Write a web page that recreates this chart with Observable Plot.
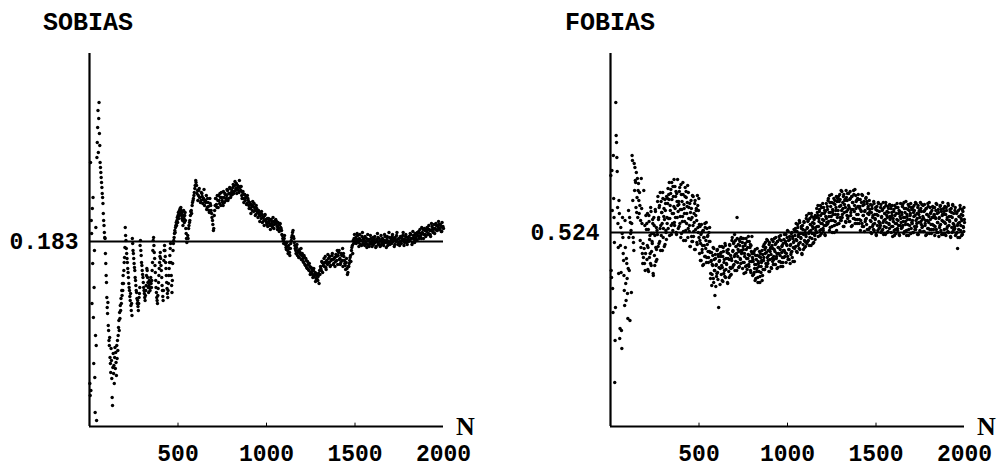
<!DOCTYPE html>
<html><head><meta charset="utf-8">
<script src="https://cdn.jsdelivr.net/npm/d3@7"></script>
<script src="https://cdn.jsdelivr.net/npm/@observablehq/plot@0.6"></script>
<style>
body{margin:0;background:#fff;}
#wrap{position:relative;width:997px;height:472px;overflow:hidden;background:#fff;}
.panel{position:absolute;top:0;}
.title{position:absolute;top:11px;font:bold 25px/25px "Liberation Mono",monospace;color:#000;white-space:nowrap;}
</style></head><body><div id="wrap"></div>
<script>
const titles = ["SOBIAS", "FOBIAS"];
const sobiasRef = 0.183, fobiasRef = 0.524;
const xTicks = [500, 1000, 1500, 2000];
const xDomain = [0, 2000];
const sobiasDomain = [-0.002, 0.371];
const fobiasDomain = [0.330, 0.703];

// SOBIAS, N = 2,4,...,550
const sobiasEarly = [
.041,.029,.262,.034,.204,.191,.121,.216,.161,.227,.107,.061,.137,.174,.047,.012,.089,.197,.079,.004,
.267,.282,.297,.314,.272,.306,.322,.291,.279,.262,.257,.252,.247,.242,.237,.231,.227,.221,.211,.204,.199,.192,.187,.186,.171,.161,.149,.142,.127,.117,
.111,.122,.099,.094,.084,.079,.087,.067,.061,.052,.076,.064,.046,.027,.019,.057,.071,.051,.059,.041,.067,.077,.056,.072,.062,.049,.079,.066,.084,.074,.089,.097,.104,.094,.112,.106,.119,.114,.126,.121,.134,.129,.141,.134,.149,.141,.154,.162,.167,.177,
.197,.189,.184,.176,.171,.166,.162,.156,.152,.147,.141,.137,.134,.128,.124,.131,.119,.114,.121,.109,
.186,.181,.174,.171,.166,.161,.157,.154,.147,.144,.139,.134,.132,.126,.121,.124,.118,.114,.121,.127,.131,.137,
.179,.184,.174,.169,.162,.159,.154,.150,.147,.142,.137,.134,.131,.127,.124,.129,.134,.139,
.149,.156,.154,.147,.142,.137,.132,.139,.144,.137,.134,.142,.147,.141,.137,.144,.154,.162,.174,.184,.187,.179,.172,.166,.159,.152,.144,.137,
.132,.127,.124,.121,.129,.136,.142,.149,.156,.162,.168,.172,.166,.159,.154,.147,.139,.134,.128,.124,.134,
.164,.174,.179,.174,.168,.162,.156,.149,.142,.136,.131,.127,.134,.141,.149,.156,.162,.169,.176,.181,.162,.149,.139,.132,.144,.161,
.174,.181,.184,.187,.191,.194,.192,.197,.199,.202,.199,.204,.207,.202,.209,.212,.206,.209,.214,.211,.216,.212,.217,.214,.209,
.206,.212,.204,.199,.209,.214,.206,.202,.209,.212,.204,.196,.191,.186,.182
];
// SOBIAS, N = 555,560,...,2000
const sobiasLate = [
.189,.196,.202,.209,.214,.219,.224,.229,.236,.244,
.239,.234,.229,.236,.227,.224,.231,.221,.226,.219,
.224,.229,.217,.222,.214,.226,.219,.211,.204,.194,
.209,.219,.226,.217,.224,.229,.221,.227,.232,.224,
.219,.227,.231,.224,.229,.234,.226,.231,.236,.229,
.234,.237,.231,.239,.234,.241,.236,.238,.232,.237,
.234,.229,.232,.226,.230,.224,.227,.221,.226,.219,
.222,.216,.220,.214,.218,.221,.214,.210,.216,.212,
.214,.209,.212,.206,.210,.207,.204,.209,.205,.202,
.206,.202,.204,.199,.205,.201,.197,.203,.200,.204,
.201,.198,.202,.196,.200,.197,.194,.189,.184,.186,
.181,.177,.182,.174,.179,.172,.176,.184,.189,.194,
.186,.179,.174,.177,.169,.174,.167,.172,.176,.169,
.166,.162,.167,.159,.164,.156,.160,.154,.158,.152,
.156,.150,.154,.148,.152,.146,.149,.144,.151,.154,
.158,.154,.162,.159,.166,.162,.157,.164,.160,.166,
.162,.158,.164,.169,.165,.161,.167,.163,.168,.174,
.169,.174,.166,.162,.169,.176,.171,.164,.159,.162,
.156,.152,.158,.164,.169,.174,.179,.184,.186,.182,
.187,.184,.189,.182,.186,.180,.184,.188,.181,.185,
.179,.183,.186,.180,.184,.178,.182,.186,.181,.184,
.180,.185,.182,.178,.183,.187,.181,.184,.179,.183,
.186,.181,.184,.188,.182,.185,.179,.183,.187,.182,
.184,.188,.183,.186,.180,.184,.189,.185,.181,.186,
.183,.187,.184,.189,.185,.182,.188,.184,.180,.186,
.188,.184,.190,.186,.182,.189,.185,.191,.187,.184,
.189,.193,.188,.191,.186,.192,.195,.190,.194,.188,
.193,.196,.191,.195,.190,.194,.198,.193,.196,.191,
.195,.199,.194,.197,.200,.195,.198,.193,.197,.196
];
// SOBIAS, N = 557,562,...,1997
const sobiasLateB = [
.186,.199,.204,.213,.211,.222,.226,.232,.239,.242,
.231,.224,.234,.227,.222,.232,.228,.225,.235,.223,
.222,.215,.226,.218,.212,.221,.214,.207,.200,.196,
.214,.226,.220,.229,.217,.224,.231,.219,.227,.222,
.233,.222,.230,.226,.235,.224,.231,.237,.227,.232,
.230,.240,.233,.243,.236,.231,.239,.234,.244,.238,
.238,.226,.233,.222,.230,.227,.220,.229,.224,.216,
.220,.211,.218,.223,.213,.217,.209,.219,.213,.207,
.211,.203,.209,.213,.202,.207,.199,.210,.204,.200,
.198,.206,.201,.195,.204,.199,.207,.196,.202,.205,
.203,.195,.199,.193,.201,.196,.190,.186,.181,.189,
.180,.175,.178,.171,.176,.169,.181,.187,.192,.188,
.182,.176,.171,.180,.172,.167,.175,.170,.165,.171,
.163,.169,.160,.166,.157,.163,.155,.161,.150,.157,
.153,.147,.156,.150,.143,.151,.145,.148,.141,.150,
.156,.163,.152,.161,.158,.168,.155,.161,.170,.162,
.168,.159,.165,.171,.160,.166,.158,.170,.164,.160,
.172,.165,.160,.171,.164,.158,.168,.161,.155,.166,
.150,.158,.161,.167,.163,.177,.171,.181,.190,.185,
.181,.191,.185,.178,.190,.184,.179,.192,.186,.180,
.188,.182,.177,.190,.185,.180,.189,.183,.178,.187,
.182,.188,.177,.185,.191,.180,.186,.178,.189,.181,
.185,.179,.190,.183,.177,.188,.182,.192,.180,.186,
.181,.190,.185,.178,.187,.183,.192,.180,.186,.179,
.188,.181,.186,.192,.179,.185,.190,.182,.187,.183,
.184,.191,.186,.180,.193,.187,.182,.190,.185,.192,
.192,.186,.195,.189,.197,.191,.186,.196,.190,.194,
.197,.190,.199,.194,.188,.201,.195,.192,.200,.196,
.201,.194,.199,.203,.196,.200,.193,.202,.198
];
// FOBIAS, N = 2,4,...,200
const fobiasEarly = [
.581,.486,.479,.586,.546,.468,.444,.601,.558,.539,
.514,.374,.416,.449,.654,.621,.614,.599,.585,.549,
.533,.509,.483,.556,.543,.418,.428,.511,.529,.484,
.426,.408,.523,.539,.519,.503,.496,.481,.466,.451,
.536,.509,.473,.456,.498,.493,.478,.463,.438,.488,
.546,.519,.486,.539,.436,.534,.523,.526,.464,.533,
.601,.596,.556,.519,.514,.506,.593,.566,.589,.576,
.574,.549,.584,.544,.559,.578,.539,.566,.573,.556,
.543,.564,.551,.516,.536,.509,.578,.548,.533,.503,
.493,.513,.499,.566,.508,.493,.531,.486,.503,.541
];
// FOBIAS, N = 203,206,...,2000
const fobiasLate = [
.527,.497,.543,.509,.485,.535,.517,.503,.549,.491,.523,.513,.533,.481,.539,.501,.521,.545,.495,.507,
.526,.555,.510,.539,.549,.515,.564,.531,.521,.544,.506,.558,.528,.548,.537,.512,.553,.524,.560,.533,
.553,.528,.562,.574,.538,.546,.567,.522,.557,.533,.570,.543,.577,.531,.548,.560,.524,.563,.539,.551,
.528,.552,.565,.533,.547,.572,.523,.555,.540,.562,.516,.548,.535,.569,.526,.559,.543,.554,.519,.564,
.549,.531,.510,.544,.556,.520,.539,.515,.560,.525,.534,.553,.507,.541,.548,.514,.561,.529,.546,.519,
.503,.530,.513,.496,.524,.507,.491,.526,.519,.511,.533,.500,.516,.494,.528,.520,.505,.499,.515,.529,
.504,.483,.496,.471,.492,.501,.478,.508,.486,.461,.498,.491,.480,.506,.484,.502,.449,.495,.510,.488,
.500,.482,.510,.489,.475,.505,.494,.486,.513,.479,.498,.492,.504,.473,.507,.485,.497,.511,.481,.488,
.498,.516,.489,.506,.513,.492,.522,.502,.495,.510,.486,.518,.500,.512,.505,.490,.515,.497,.519,.503,
.504,.488,.510,.518,.494,.500,.513,.484,.507,.491,.515,.498,.520,.490,.501,.509,.486,.511,.495,.503,
.481,.495,.503,.484,.492,.507,.478,.497,.488,.501,.474,.493,.485,.505,.480,.499,.490,.496,.476,.502,
.510,.499,.487,.507,.514,.493,.504,.490,.516,.496,.501,.512,.485,.505,.509,.489,.517,.498,.508,.492,
.497,.518,.505,.492,.513,.500,.488,.515,.509,.503,.520,.495,.507,.490,.516,.510,.499,.494,.506,.517,
.522,.504,.515,.494,.512,.519,.500,.525,.507,.497,.517,.511,.502,.523,.505,.520,.495,.514,.527,.508,
.525,.510,.533,.516,.504,.529,.520,.513,.536,.507,.523,.518,.528,.502,.531,.512,.522,.534,.509,.515,
.522,.538,.513,.529,.535,.516,.543,.525,.519,.532,.511,.540,.523,.534,.528,.514,.537,.521,.541,.526,
.539,.524,.544,.551,.530,.535,.547,.521,.541,.527,.549,.533,.553,.526,.536,.543,.522,.545,.531,.538,
.532,.547,.556,.535,.544,.561,.529,.550,.540,.554,.524,.545,.536,.558,.531,.552,.542,.549,.526,.555,
.558,.546,.533,.555,.562,.539,.551,.536,.565,.542,.548,.560,.530,.552,.557,.535,.566,.545,.556,.538,
.540,.563,.549,.535,.558,.544,.530,.560,.554,.547,.566,.538,.551,.533,.561,.555,.542,.537,.550,.562,
.557,.537,.550,.526,.546,.554,.533,.561,.541,.530,.552,.545,.535,.558,.538,.555,.527,.548,.563,.542,
.544,.529,.552,.535,.523,.548,.539,.532,.555,.526,.542,.537,.547,.521,.550,.531,.541,.553,.528,.534,
.533,.549,.524,.540,.546,.527,.554,.536,.530,.543,.522,.551,.534,.545,.539,.525,.548,.532,.552,.537,
.539,.524,.544,.551,.530,.535,.547,.521,.541,.527,.549,.533,.553,.526,.536,.543,.522,.545,.531,.538,
.528,.542,.550,.531,.539,.554,.525,.544,.535,.548,.521,.540,.532,.552,.527,.546,.537,.543,.523,.549,
.547,.536,.524,.544,.551,.530,.541,.527,.553,.533,.538,.549,.522,.542,.546,.526,.554,.535,.545,.529,
.530,.551,.538,.525,.546,.533,.521,.548,.542,.536,.553,.528,.540,.523,.549,.543,.532,.527,.539,.550,
.549,.531,.542,.521,.539,.546,.527,.552,.534,.524,.544,.538,.529,.550,.532,.547,.522,.541,.554,.535,
.542,.527,.550,.533,.521,.546,.537,.530,.553,.524,.540,.535,.545,.519,.548,.529,.539,.551,.526,.532,
.530,.546,.521,.537,.543,.524,.508,.533,.527,.540,.519,.548,.531,.542,.536,.522,.545,.529,.549,.534
];
// FOBIAS, N = 205,208,...,1999
const fobiasLateB = [
.533,.511,.487,.527,.541,.499,.521,.493,.545,.505,.515,.537,.483,.523,.531,.491,.547,.509,.529,.497,
.522,.560,.537,.513,.551,.528,.506,.555,.544,.533,.564,.519,.540,.510,.557,.546,.526,.517,.539,.558,
.568,.538,.557,.521,.551,.563,.531,.574,.543,.526,.560,.550,.534,.570,.539,.565,.522,.555,.577,.545,
.555,.530,.569,.540,.519,.562,.547,.535,.574,.525,.552,.543,.560,.516,.565,.533,.550,.571,.528,.538,
.525,.553,.510,.537,.548,.515,.561,.531,.520,.543,.507,.556,.527,.546,.536,.512,.551,.524,.558,.532,
.516,.496,.522,.532,.504,.511,.526,.492,.519,.500,.529,.508,.534,.499,.512,.521,.494,.524,.505,.515,
.478,.495,.504,.482,.491,.509,.474,.497,.486,.502,.470,.492,.483,.507,.477,.500,.489,.496,.472,.503,
.504,.491,.476,.500,.509,.483,.497,.480,.511,.487,.493,.506,.474,.498,.503,.479,.512,.489,.501,.482,
.496,.519,.505,.491,.514,.500,.486,.516,.510,.503,.539,.494,.507,.489,.517,.511,.498,.493,.506,.518,
.514,.494,.507,.483,.503,.511,.490,.518,.498,.487,.509,.502,.492,.515,.495,.512,.484,.505,.520,.499,
.497,.482,.505,.488,.476,.501,.492,.485,.508,.479,.495,.490,.500,.474,.503,.484,.494,.506,.481,.487,
.496,.512,.487,.503,.509,.490,.517,.499,.493,.506,.485,.514,.497,.508,.502,.488,.511,.495,.515,.500,
.507,.492,.512,.519,.498,.503,.515,.489,.509,.495,.517,.501,.521,.494,.504,.511,.490,.513,.499,.506,
.500,.514,.522,.503,.511,.526,.497,.516,.507,.520,.493,.512,.504,.524,.499,.518,.509,.515,.495,.521,
.528,.517,.505,.525,.532,.511,.522,.508,.534,.514,.519,.530,.503,.523,.527,.507,.535,.516,.526,.510,
.520,.541,.528,.515,.536,.523,.511,.538,.532,.526,.543,.518,.530,.513,.539,.533,.522,.517,.529,.540,
.548,.530,.541,.520,.538,.545,.526,.551,.533,.523,.543,.537,.528,.549,.531,.546,.521,.540,.553,.534,
.550,.533,.558,.540,.526,.554,.544,.536,.562,.530,.547,.542,.553,.524,.556,.535,.546,.560,.532,.539,
.542,.560,.533,.550,.557,.536,.566,.546,.539,.554,.530,.562,.544,.556,.549,.534,.559,.541,.563,.547,
.551,.535,.557,.565,.541,.547,.560,.531,.554,.538,.562,.545,.567,.537,.548,.556,.533,.558,.542,.550,
.533,.548,.557,.536,.545,.562,.530,.551,.541,.555,.525,.546,.537,.559,.532,.553,.543,.550,.527,.556,
.547,.536,.524,.544,.551,.530,.541,.527,.553,.533,.538,.549,.522,.542,.546,.526,.554,.535,.545,.529,
.531,.552,.539,.526,.547,.534,.522,.549,.543,.537,.554,.529,.541,.524,.550,.544,.533,.528,.540,.551,
.548,.530,.541,.520,.538,.545,.526,.551,.533,.523,.543,.537,.528,.549,.531,.546,.521,.540,.553,.534,
.544,.529,.552,.535,.523,.548,.539,.532,.555,.526,.542,.537,.547,.521,.550,.531,.541,.553,.528,.534,
.533,.549,.524,.540,.546,.527,.554,.536,.530,.543,.522,.551,.534,.545,.539,.525,.548,.532,.552,.537,
.540,.525,.545,.552,.531,.536,.548,.522,.542,.528,.550,.534,.554,.527,.537,.544,.523,.546,.532,.539,
.527,.541,.549,.530,.538,.553,.524,.543,.534,.547,.520,.539,.531,.551,.526,.545,.536,.542,.522,.548,
.545,.534,.522,.542,.549,.528,.539,.525,.551,.531,.536,.547,.520,.540,.544,.524,.552,.533,.543,.527,
.528,.549,.536,.523,.544,.531,.519,.546,.540,.534,.551,.526,.538,.521,.547,.541,.530,.525,.537
];

const sobiasPts = [
  ...sobiasEarly.map((v, i) => ({n: 2 * (i + 1), v})),
  ...sobiasLate.map((v, i) => ({n: 555 + 5 * i, v})),
  ...sobiasLateB.map((v, i) => ({n: 557 + 5 * i, v}))
];
const fobiasPts = [
  ...fobiasEarly.map((v, i) => ({n: 2 * (i + 1), v})),
  ...fobiasLate.map((v, i) => ({n: 203 + 3 * i, v})),
  ...fobiasLateB.map((v, i) => ({n: 205 + 3 * i, v}))
];

const MONO = "Liberation Mono, monospace";

function panel({pts, ref, yDomain, width, marginLeft, marginRight}) {
  const y0 = yDomain[0];
  const tickLen = (yDomain[1] - yDomain[0]) * 0.009;
  return Plot.plot({
    width, height: 472,
    marginLeft, marginRight, marginTop: 53, marginBottom: 46,
    x: {domain: xDomain, axis: null},
    y: {domain: yDomain, axis: null},
    style: {background: "transparent", overflow: "visible"},
    marks: [
      Plot.ruleY([ref], {stroke: "#000", strokeWidth: 2}),
      Plot.dot(pts, {x: "n", y: "v", r: 1.7, fill: "#000", stroke: "none"}),
      Plot.ruleX([0], {stroke: "#000", strokeWidth: 2.2}),
      Plot.ruleY([y0], {stroke: "#000", strokeWidth: 2.2}),
      Plot.ruleX(xTicks.slice(0, 3), {y1: y0, y2: y0 + tickLen, stroke: "#000", strokeWidth: 1}),
      Plot.text(xTicks, {x: d => d, y: y0, text: d => String(d), dy: 27, textAnchor: "middle",
        fontSize: 23, fontFamily: MONO, fontWeight: "bold", fill: "#000"}),
      Plot.text([ref], {x: 0, y: d => d, text: d => d.toFixed(3), dx: -11, textAnchor: "end",
        fontSize: 23, fontFamily: MONO, fontWeight: "bold", fill: "#000"}),
      Plot.text(["N"], {x: xDomain[1], y: y0, text: d => d, dx: 22, textAnchor: "middle",
        fontSize: 26, fontFamily: "Liberation Serif, serif", fontWeight: "bold", fill: "#000"})
    ]
  });
}

const wrap = document.getElementById("wrap");
const left = panel({pts: sobiasPts, ref: sobiasRef, yDomain: sobiasDomain, width: 498, marginLeft: 89, marginRight: 55});
left.classList.add("panel"); left.style.left = "0px";
const right = panel({pts: fobiasPts, ref: fobiasRef, yDomain: fobiasDomain, width: 499, marginLeft: 112, marginRight: 33});
right.classList.add("panel"); right.style.left = "498px";
wrap.appendChild(left); wrap.appendChild(right);

[[titles[0], 43], [titles[1], 565]].forEach(([t, x]) => {
  const d = document.createElement("div");
  d.className = "title"; d.textContent = t; d.style.left = x + "px";
  wrap.appendChild(d);
});
</script></body></html>
